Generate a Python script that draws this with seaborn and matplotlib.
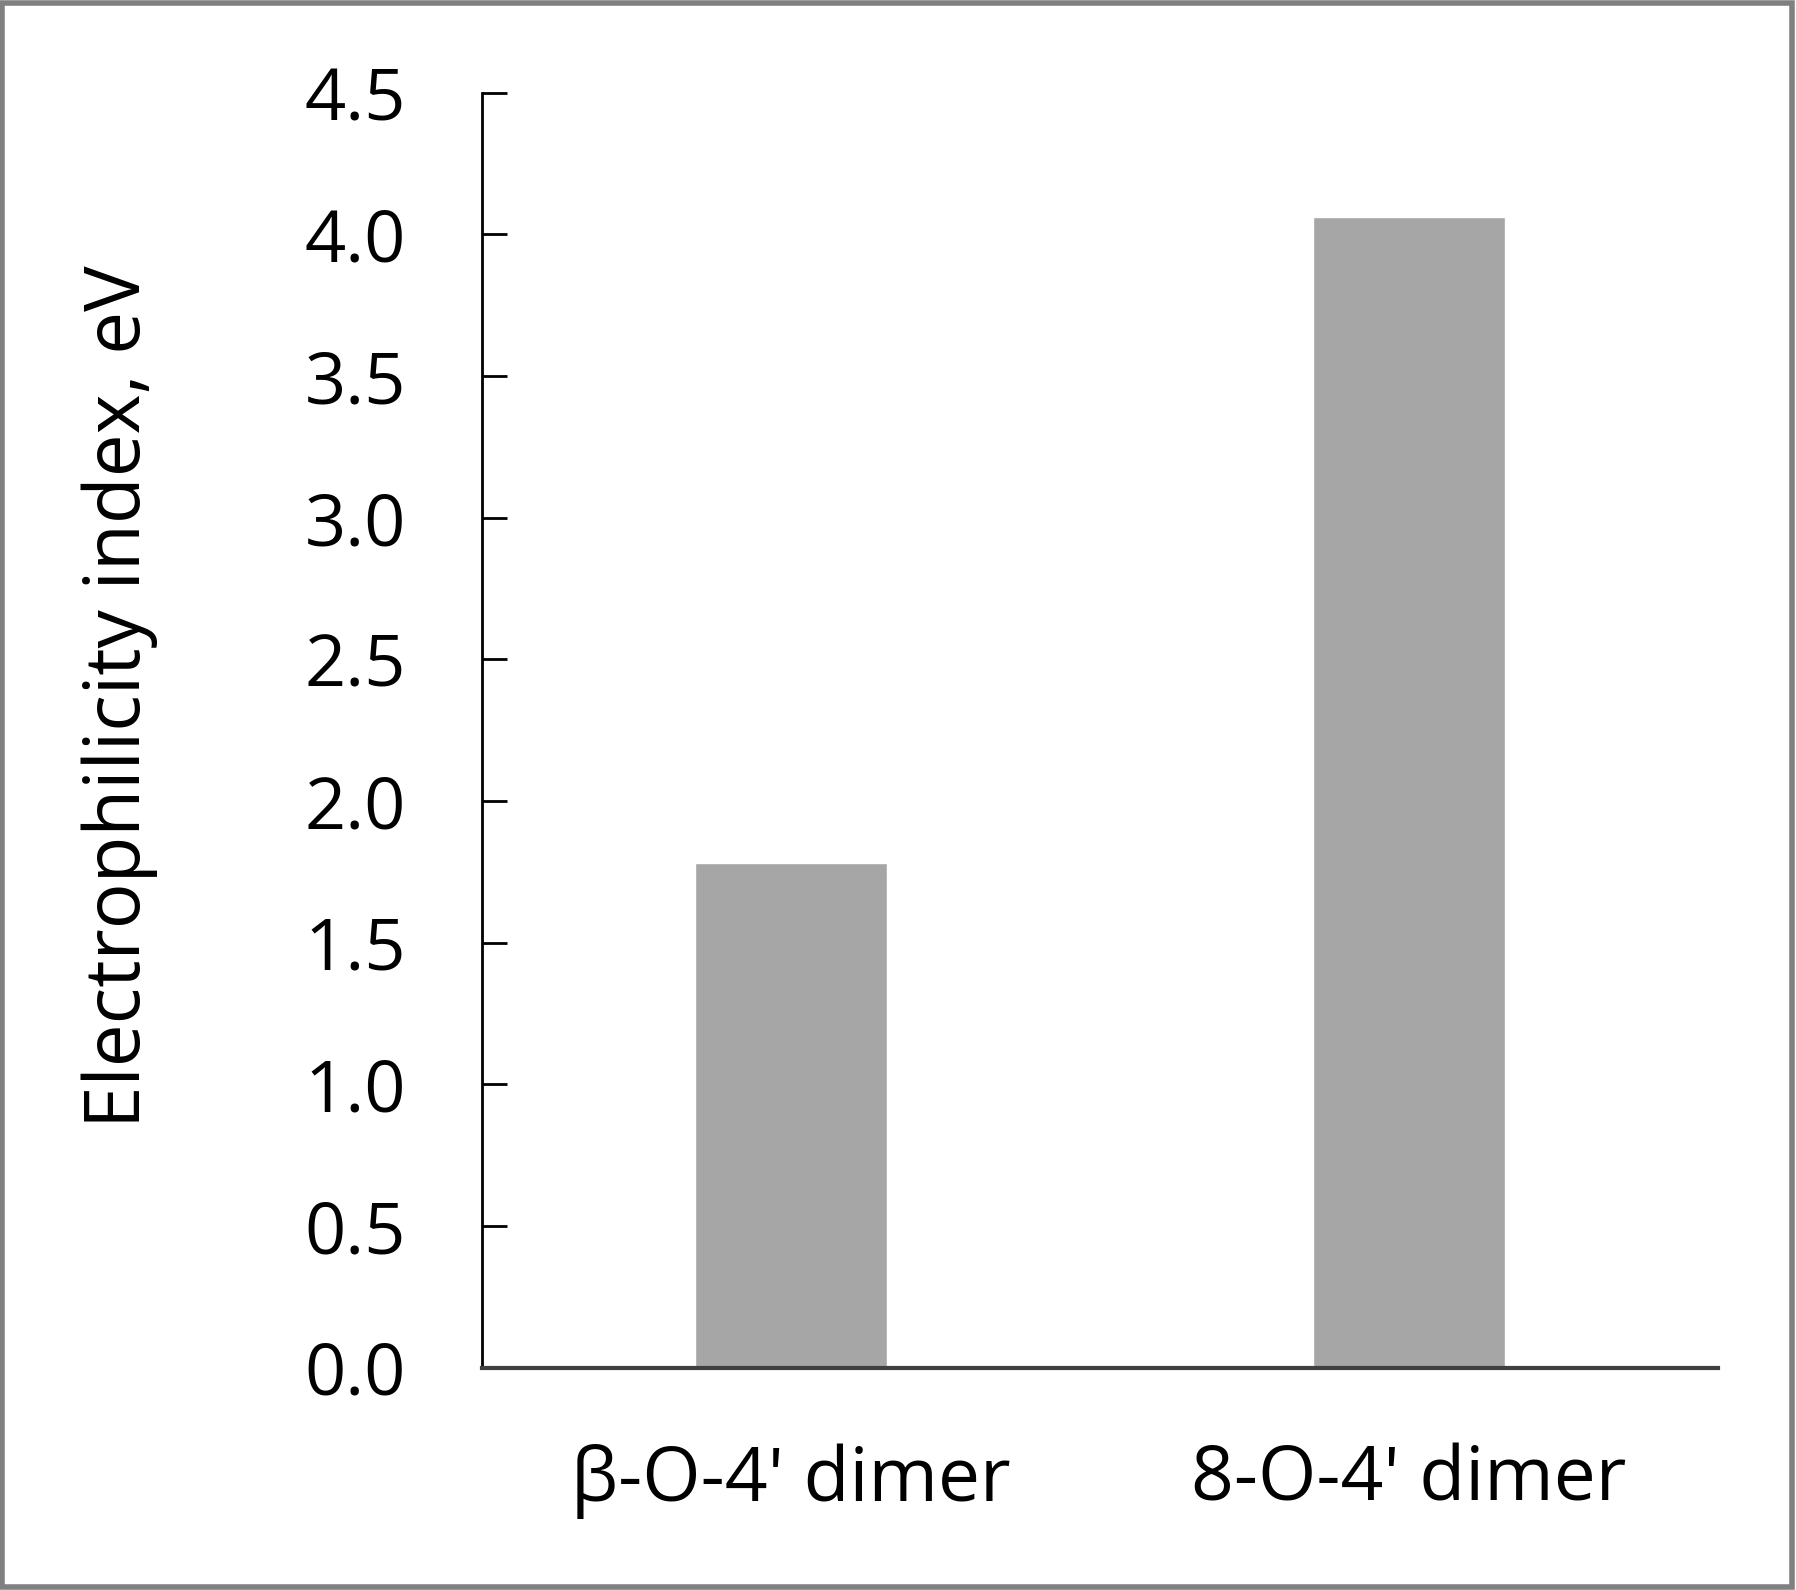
import matplotlib
matplotlib.use("Agg")
import matplotlib.pyplot as plt
import seaborn as sns
import pandas as pd
from matplotlib.patches import Rectangle

# data
dimers = ["β-O-4' dimer", "8-O-4' dimer"]
electrophilicity = [1.78, 4.06]
y_ticks = [0.0, 0.5, 1.0, 1.5, 2.0, 2.5, 3.0, 3.5, 4.0, 4.5]

df = pd.DataFrame({"dimer": dimers, "omega": electrophilicity})

sns.set_style("white")
plt.rcParams['font.family'] = ['Open Sans', 'DejaVu Sans']
plt.rcParams['text.color'] = 'black'
plt.rcParams['axes.labelcolor'] = 'black'
plt.rcParams['xtick.color'] = 'black'
plt.rcParams['ytick.color'] = 'black'

fig = plt.figure(figsize=(17.96, 15.90), dpi=100)
ax = fig.add_axes([0.2685, 0.1399, 0.6881, 0.8017])

sns.barplot(data=df, x="dimer", y="omega", color="#a6a6a6", saturation=1,
            width=0.31, ax=ax)

ax.set_xlim(-0.5, 1.5)
ax.set_ylim(0, 4.5)
ax.set_yticks(y_ticks)
ax.set_yticklabels([f"{t:.1f}" for t in y_ticks])
ax.set_xlabel("")
ax.set_ylabel("Electrophilicity index, eV", fontsize=55, labelpad=105)
ax.yaxis.label.set_y(0.526)

sns.despine(ax=ax)
ax.spines["left"].set_linewidth(2)
ax.spines["left"].set_color("black")
ax.spines["bottom"].set_linewidth(3)
ax.spines["bottom"].set_color("#404040")

ax.tick_params(axis="y", direction="in", length=18, width=2, color="black",
               labelsize=52, pad=55, left=True)
ax.tick_params(axis="x", length=0, labelsize=54, pad=55)

# grey frame round the whole picture
fig.patches.append(Rectangle((0.001, 0.002), 0.997, 0.996, transform=fig.transFigure,
                             fill=False, edgecolor="#808080", linewidth=4))

fig.savefig("out.png", dpi=100)
